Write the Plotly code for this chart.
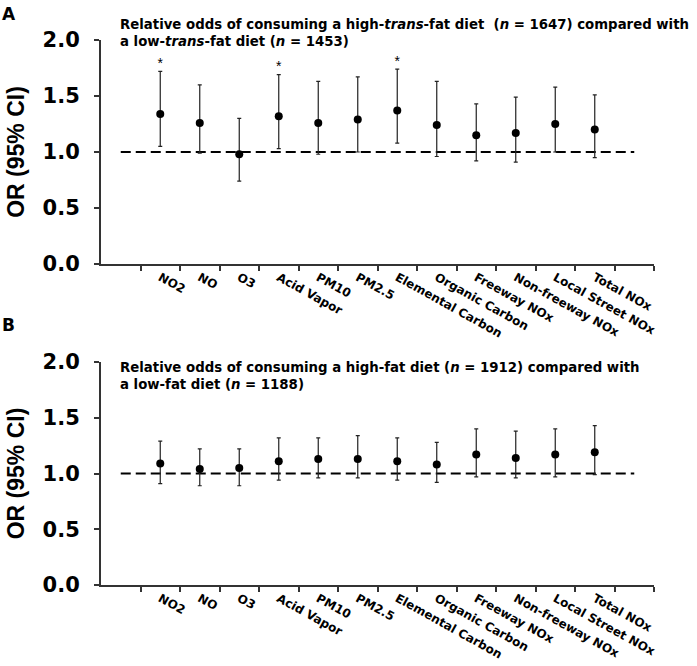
import plotly.graph_objects as go

categories = ["NO2", "NO", "O3", "Acid Vapor", "PM10", "PM2.5", "Elemental Carbon",
              "Organic Carbon", "Freeway NOx", "Non-freeway NOx", "Local Street NOx", "Total NOx"]

# Panel A: high-trans-fat vs low-trans-fat
a_or = [1.34, 1.26, 0.98, 1.32, 1.26, 1.29, 1.37, 1.24, 1.15, 1.17, 1.25, 1.20]
a_lo = [1.05, 0.99, 0.74, 1.03, 0.98, 1.00, 1.08, 0.96, 0.92, 0.91, 1.00, 0.95]
a_hi = [1.72, 1.60, 1.30, 1.69, 1.63, 1.67, 1.74, 1.63, 1.43, 1.49, 1.58, 1.51]
a_sig = [True, False, False, True, False, False, True, False, False, False, False, False]

# Panel B: high-fat vs low-fat
b_or = [1.09, 1.04, 1.05, 1.11, 1.13, 1.13, 1.11, 1.08, 1.17, 1.14, 1.17, 1.19]
b_lo = [0.91, 0.89, 0.89, 0.94, 0.96, 0.96, 0.94, 0.92, 0.97, 0.96, 0.97, 0.99]
b_hi = [1.29, 1.22, 1.22, 1.32, 1.32, 1.34, 1.32, 1.28, 1.40, 1.38, 1.40, 1.43]

y_ticks = [0.0, 0.5, 1.0, 1.5, 2.0]
ref_or = 1.0

title_a = ("Relative odds of consuming a high-<i>trans</i>-fat diet  (<i>n</i> = 1647) compared with<br>"
           "a low-<i>trans</i>-fat diet (<i>n</i> = 1453)")
title_b = ("Relative odds of consuming a high-fat diet (<i>n</i> = 1912) compared with<br>"
           "a low-fat diet (<i>n</i> = 1188)")

W, H = 697, 666
WIDE = "DejaVu Sans, Verdana, sans-serif"
NARROW = "Liberation Sans, Arial, sans-serif"
pos = list(range(len(categories)))
bounds = [i - 0.5 for i in range(len(categories) + 2)]

fig = go.Figure()

def add_panel(xa, ya, ors, los, his, sig=None):
    fig.add_trace(go.Scatter(
        x=[-1, len(categories)], y=[ref_or, ref_or], mode="lines",
        line=dict(color="black", width=1.8, dash="10px,5px"),
        xaxis=xa, yaxis=ya, showlegend=False, hoverinfo="skip"))
    fig.add_trace(go.Scatter(
        x=pos, y=ors, mode="markers",
        marker=dict(color="black", size=8),
        error_y=dict(type="data", symmetric=False,
                     array=[h - o for h, o in zip(his, ors)],
                     arrayminus=[o - l for o, l in zip(ors, los)],
                     color="#222222", thickness=1.2, width=2),
        xaxis=xa, yaxis=ya, showlegend=False))
    if sig:
        sx = [p for p, s in zip(pos, sig) if s]
        sy = [h for h, s in zip(his, sig) if s]
        fig.add_trace(go.Scatter(
            x=sx, y=sy, mode="text", text=["*"] * len(sx),
            textposition="top center", textfont=dict(size=14, color="black", family=NARROW),
            xaxis=xa, yaxis=ya, showlegend=False, hoverinfo="skip"))

add_panel("x", "y", a_or, a_lo, a_hi, a_sig)
add_panel("x2", "y2", b_or, b_lo, b_hi)

def px_x(p):
    return p / W

def px_y(p):
    return 1 - p / H

xcommon = dict(
    range=[-1.5, len(categories) + 0.5], tickmode="array", tickvals=pos, ticktext=categories,
    ticks="", tickangle=29, showline=True, linewidth=2, linecolor="#333333",
    showgrid=False, zeroline=False, automargin=False,
    tickfont=dict(family=WIDE, size=12, color="black", weight="bold"),
    minor=dict(tickvals=bounds, ticks="outside", ticklen=5, tickwidth=1.5, tickcolor="#333333", showgrid=False),
)
ycommon = dict(
    range=[0, 2.0], tickmode="array", tickvals=y_ticks, ticktext=[f"{v:.1f}" for v in y_ticks],
    ticks="outside", ticklen=5, tickwidth=1.5, tickcolor="#333333",
    showline=True, linewidth=2, linecolor="#333333", showgrid=False, zeroline=False,
    automargin=False,
    tickfont=dict(family=WIDE, size=21, color="black", weight="bold"),
    ticklabelstandoff=10,
    title=dict(text="OR (95% CI)", font=dict(family=NARROW, size=23, color="black", weight="bold"), standoff=12),
)

fig.update_layout(
    width=W, height=H, margin=dict(l=0, r=0, t=0, b=0),
    paper_bgcolor="white", plot_bgcolor="white",
    xaxis=dict(domain=[px_x(101), px_x(654)], anchor="y", **xcommon),
    yaxis=dict(domain=[px_y(264), px_y(40)], anchor="x", **ycommon),
    xaxis2=dict(domain=[px_x(101), px_x(654)], anchor="y2", **xcommon),
    yaxis2=dict(domain=[px_y(585), px_y(362)], anchor="x2", **ycommon),
    annotations=[
        dict(text="<b>A</b>", x=px_x(0), y=px_y(2), xref="paper", yref="paper",
             xanchor="left", yanchor="top", showarrow=False,
             font=dict(family=WIDE, size=17, color="black")),
        dict(text="<b>B</b>", x=px_x(0), y=px_y(313), xref="paper", yref="paper",
             xanchor="left", yanchor="top", showarrow=False,
             font=dict(family=WIDE, size=17, color="black")),
        dict(text="<b>" + title_a + "</b>", x=px_x(118), y=px_y(15), xref="paper", yref="paper",
             xanchor="left", yanchor="top", align="left", showarrow=False,
             font=dict(family=WIDE, size=13.3, color="black")),
        dict(text="<b>" + title_b + "</b>", x=px_x(118), y=px_y(358), xref="paper", yref="paper",
             xanchor="left", yanchor="top", align="left", showarrow=False,
             font=dict(family=WIDE, size=13.3, color="black")),
    ],
)

fig.write_html("out.html", config={"displayModeBar": False},
               post_script="document.body.style.margin='0';")
